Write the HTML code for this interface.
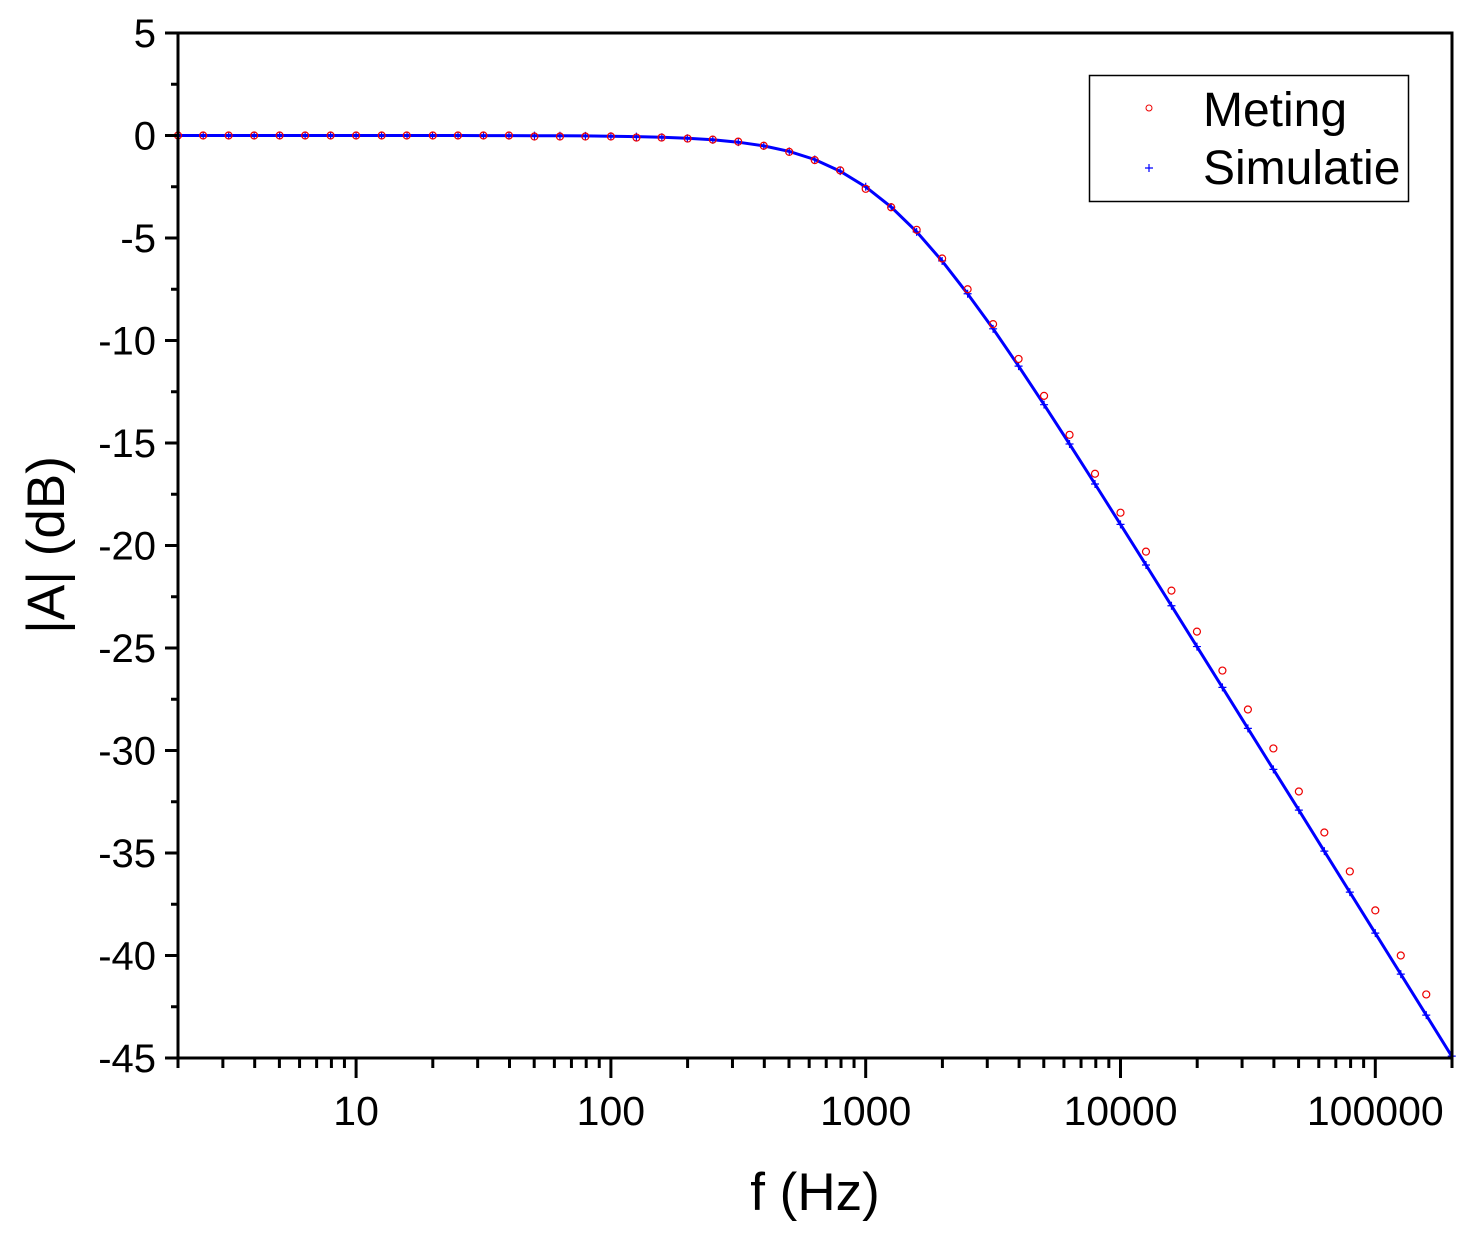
<!DOCTYPE html>
<html><head><meta charset="utf-8"><style>
body{margin:0;background:#fff}
svg text{font-family:"Liberation Sans",Arial,sans-serif;fill:#000}
</style></head><body>
<svg id="chart" width="1468" height="1250" viewBox="0 0 1468 1250" xmlns="http://www.w3.org/2000/svg">
<rect x="0" y="0" width="1468" height="1250" fill="#fff"/>
<g id="marks"></g>
<g id="axes"></g>
<g>
<rect x="1089.5" y="75.5" width="319" height="126" fill="#fff" stroke="#000" stroke-width="1.5"/>
<circle cx="1149" cy="108" r="3" fill="none" stroke="#e00" stroke-width="1"/>
<text x="1203" y="126" font-size="48">Meting</text>
<path d="M1145 168h8M1149 164v8" stroke="#00f" stroke-width="1.2"/>
<text x="1203" y="184" font-size="48">Simulatie</text>
</g>
<text x="815" y="1210" font-size="53" text-anchor="middle">f (Hz)</text>
<text transform="translate(64,545) rotate(-90)" font-size="53" text-anchor="middle">|A| (dB)</text>
</svg>
<script>
const measFreq=[2,2.51,3.16,3.98,5.01,6.31,7.94,10,12.6,15.8,20,25.1,31.6,39.8,50.1,63.1,79.4,100,126,158,200,251,316,398,501,631,794,1000,1259,1585,1995,2512,3162,3981,5012,6310,7943,10000,12589,15849,19953,25119,31623,39811,50119,63096,79433,100000,125893,158489];
const measDb=[0,0,0,0,0,0,0,0,0,0,0,0,0,0,-0.05,-0.05,-0.05,-0.05,-0.1,-0.1,-0.15,-0.2,-0.3,-0.5,-0.8,-1.2,-1.7,-2.6,-3.5,-4.6,-6.0,-7.5,-9.2,-10.9,-12.7,-14.6,-16.5,-18.4,-20.3,-22.2,-24.2,-26.1,-28.0,-29.9,-32.0,-34.0,-35.9,-37.8,-40.0,-41.9];
const simLogF=[0.3,0.4,0.5,0.6,0.7,0.8,0.9,1.0,1.1,1.2,1.3,1.4,1.5,1.6,1.7,1.8,1.9,2.0,2.1,2.2,2.3,2.4,2.5,2.6,2.7,2.8,2.9,3.0,3.1,3.2,3.3,3.4,3.5,3.6,3.7,3.8,3.9,4.0,4.1,4.2,4.3,4.4,4.5,4.6,4.7,4.8,4.9,5.0,5.1,5.2,5.3];
const simDb=[0,0,0,0,0,0,0,0,0,0,0,0,-0.003,-0.005,-0.0085,-0.0135,-0.021,-0.034,-0.053,-0.084,-0.132,-0.208,-0.326,-0.505,-0.775,-1.17,-1.74,-2.50,-3.49,-4.70,-6.12,-7.72,-9.43,-11.25,-13.13,-15.05,-17.00,-18.97,-20.95,-22.94,-24.93,-26.92,-28.92,-30.92,-32.91,-34.91,-36.91,-38.91,-40.91,-42.91,-44.91];
const yTicks=[5,0,-5,-10,-15,-20,-25,-30,-35,-40,-45];
const xTickLabels=["10","100","1000","10000","100000"];
const xTickDecades=[1,2,3,4,5];

const L=178,R=1452,T=33,B=1058;
const lmin=Math.log10(2),lmax=Math.log10(200000);
const xl=l=>L+(l-lmin)/(lmax-lmin)*(R-L);
const xs=f=>xl(Math.log10(f));
const ys=v=>T+(5-v)/50*(B-T);
const NS="http://www.w3.org/2000/svg";
const marks=document.getElementById('marks'),axes=document.getElementById('axes');
function mk(tag,attrs,parent){const e=document.createElementNS(NS,tag);for(const k in attrs)e.setAttribute(k,attrs[k]);parent.appendChild(e);return e;}

let d='';
simLogF.forEach((l,i)=>{d+=(i?'L':'M')+xl(l).toFixed(1)+' '+ys(simDb[i]).toFixed(1);});
const sl=mk('path',{d:d,fill:'none',stroke:'#00f','stroke-width':3},marks);


let cd='';
simLogF.forEach((l,i)=>{const x=xl(l),y=ys(simDb[i]);cd+=`M${x-4} ${y}h8M${x} ${y-4}v8`;});
const sc=mk('path',{d:cd,stroke:'#00f','stroke-width':1.2},marks);


measFreq.forEach((f,i)=>{
 const c=mk('circle',{cx:xs(f),cy:ys(measDb[i]),r:3.5,fill:'none',stroke:'#e00','stroke-width':1.2},marks);
 
 
});

const fr=mk('rect',{x:L,y:T,width:R-L,height:B-T,fill:'none',stroke:'#000','stroke-width':3},axes);


yTicks.forEach(v=>{
 const y=ys(v);
 mk('line',{x1:L-13,x2:L,y1:y,y2:y,stroke:'#000','stroke-width':3},axes);
 if(v>-45){const ym=ys(v-2.5);mk('line',{x1:L-7,x2:L,y1:ym,y2:ym,stroke:'#000','stroke-width':3},axes);}
 const t=mk('text',{x:L-22,y:y+14,'font-size':40,'text-anchor':'end'},axes);
 t.textContent=String(v);
 
 
});
for(let dec=0;dec<=5;dec++){
 for(let m=1;m<=9;m++){
  const l=dec+Math.log10(m);
  if(l<lmin-1e-6||l>lmax+1e-6)continue;
  const x=xl(l);
  mk('line',{x1:x,x2:x,y1:B,y2:B+(m===1?20:10),stroke:'#000','stroke-width':3},axes);
 }
}
xTickDecades.forEach((dd,i)=>{
 const t=mk('text',{x:xl(dd),y:B+67,'font-size':41,'text-anchor':'middle'},axes);
 t.textContent=xTickLabels[i];
 
 
});
</script>
</body></html>
